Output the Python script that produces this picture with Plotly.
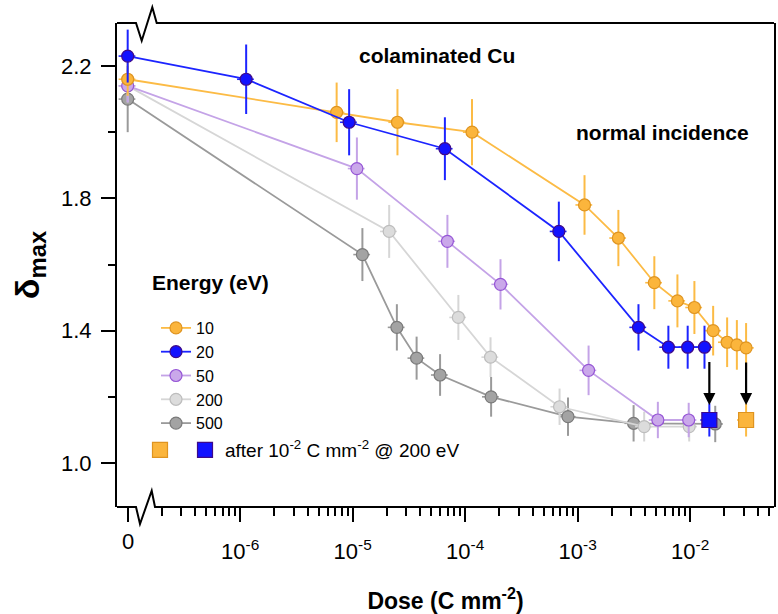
import numpy as np
import plotly.graph_objects as go

# ---------------- data ----------------
ENERGIES = ["10", "20", "50", "200", "500"]

DOSE_10 = [0, 7.2e-6, 2.5e-5, 1.15e-4, 1.15e-3, 2.3e-3, 4.8e-3, 7.7e-3, 1.09e-2, 1.6e-2, 2.13e-2, 2.6e-2, 3.14e-2]
DMAX_10 = [2.16, 2.06, 2.03, 2.00, 1.78, 1.68, 1.545, 1.49, 1.47, 1.40, 1.365, 1.357, 1.348]
ERR_10 = [0.05, 0.09, 0.10, 0.10, 0.09, 0.085, 0.08, 0.08, 0.08, 0.075, 0.075, 0.075, 0.075]

DOSE_20 = [0, 1.13e-6, 9.3e-6, 6.6e-5, 6.8e-4, 3.47e-3, 6.4e-3, 9.5e-3, 1.34e-2]
DMAX_20 = [2.23, 2.16, 2.03, 1.95, 1.70, 1.41, 1.35, 1.35, 1.35]
ERR_20 = [0.08, 0.105, 0.10, 0.095, 0.09, 0.07, 0.065, 0.065, 0.065]

DOSE_50 = [0, 1.09e-5, 6.95e-5, 2.06e-4, 1.25e-3, 5.16e-3, 9.7e-3]
DMAX_50 = [2.14, 1.89, 1.67, 1.54, 1.28, 1.13, 1.13]
ERR_50 = [0.05, 0.094, 0.08, 0.076, 0.075, 0.055, 0.052]

DOSE_200 = [0, 2.11e-5, 8.7e-5, 1.68e-4, 6.9e-4, 3.9e-3, 9.8e-3]
DMAX_200 = [2.14, 1.70, 1.44, 1.32, 1.17, 1.11, 1.11]
ERR_200 = [0.05, 0.08, 0.068, 0.06, 0.055, 0.045, 0.045]

DOSE_500 = [0, 1.22e-5, 2.47e-5, 3.7e-5, 5.98e-5, 1.7e-4, 8.2e-4, 3.14e-3, 1.67e-2]
DMAX_500 = [2.10, 1.63, 1.41, 1.317, 1.266, 1.20, 1.14, 1.12, 1.118]
ERR_500 = [0.10, 0.08, 0.07, 0.065, 0.063, 0.06, 0.058, 0.055, 0.055]

# after 1e-2 C mm^-2 @ 200 eV (orange = 10 eV, blue = 20 eV)
AFTER_DOSE = [3.14e-2, 1.48e-2]
AFTER_DMAX = [1.13, 1.13]
AFTER_ERR = [0.05, 0.05]

X_TICK_VALS = [1e-6, 1e-5, 1e-4, 1e-3, 1e-2]
X_TICK_TEXT = ["10<sup>-6</sup>", "10<sup>-5</sup>", "10<sup>-4</sup>", "10<sup>-3</sup>", "10<sup>-2</sup>"]
Y_TICK_VALS = [1.0, 1.4, 1.8, 2.2]
Y_TICK_TEXT = ["1.0", "1.4", "1.8", "2.2"]
Y_MINOR_VALS = [1.2, 1.6, 2.0]

ZERO_POS = 1e-7  # dose "0" is drawn here on the broken log axis

# ---------------- styling ----------------
FONT = "Liberation Sans, Arial, Helvetica, sans-serif"
W, H = 778, 614
ML, MR, MT, MB = 117, 4, 23, 107
PW, PH = W - ML - MR, H - MT - MB


def px(x):
    return (x - ML) / PW


def py(y):
    return (H - MB - y) / PH


STYLE = {
    "10": dict(line="#fcbb45", fill="#fbb53c", edge="#df9420"),
    "20": dict(line="#1c24ff", fill="#1212ff", edge="#3d0a8a"),
    "50": dict(line="#c4a3e7", fill="#caa8ea", edge="#9656d6"),
    "200": dict(line="#d6d6d6", fill="#dcdcdc", edge="#bdbdbd"),
    "500": dict(line="#9a9a9a", fill="#a3a3a3", edge="#7a7a7a"),
}
SERIES = {
    "10": (DOSE_10, DMAX_10, ERR_10),
    "20": (DOSE_20, DMAX_20, ERR_20),
    "50": (DOSE_50, DMAX_50, ERR_50),
    "200": (DOSE_200, DMAX_200, ERR_200),
    "500": (DOSE_500, DMAX_500, ERR_500),
}
DRAW_ORDER = ["500", "200", "50", "10", "20"]


def xpos(d):
    return [ZERO_POS if v == 0 else v for v in d]


fig = go.Figure()
for key in DRAW_ORDER:
    dose, dmax, err = SERIES[key]
    st = STYLE[key]
    fig.add_trace(go.Scatter(
        x=xpos(dose), y=dmax, mode="lines+markers", name=key,
        legendrank=ENERGIES.index(key) + 1, legend="legend",
        line=dict(color=st["line"], width=1.8),
        marker=dict(size=12, color=st["fill"], line=dict(color=st["edge"], width=1.2)),
        error_y=dict(type="data", array=err, color=st["line"], thickness=2, width=0),
        error_x=dict(type="percent", value=17, color=st["line"], thickness=1.6, width=0),
    ))

for i, key in enumerate(["10", "20"]):
    st = STYLE[key]
    fig.add_trace(go.Scatter(
        x=[AFTER_DOSE[i]], y=[AFTER_DMAX[i]], mode="markers",
        name="" if key == "10" else "after 10<sup>-2</sup> C mm<sup>-2</sup> @ 200 eV",
        legend="legend2", legendrank=i + 1,
        marker=dict(symbol="square", size=15, color=st["fill"], line=dict(color=st["edge"], width=1.2)),
        error_y=dict(type="data", array=[AFTER_ERR[i]], color=st["line"], thickness=2, width=0),
        error_x=dict(type="percent", value=17, color=st["line"], thickness=1.6, width=0),
    ))

# arrows from last point of each series down to the "after" square
annotations = []
for i, (dose, dmax) in enumerate([(DOSE_10, DMAX_10), (DOSE_20, DMAX_20)]):
    xl = np.log10(AFTER_DOSE[i])
    annotations.append(dict(
        x=xl, y=AFTER_DMAX[i] + 0.045, ax=xl, ay=dmax[-1] - 0.04,
        xref="x", yref="y", axref="x", ayref="y", text="",
        showarrow=True, arrowhead=2, arrowsize=1.1, arrowwidth=2.2, arrowcolor="black",
    ))

annotations += [
    dict(x=px(437), y=py(55), xref="paper", yref="paper", text="<b>colaminated Cu</b>",
         xanchor="center", yanchor="middle", showarrow=False,
         font=dict(size=21, color="black", family=FONT)),
    dict(x=px(662), y=py(132), xref="paper", yref="paper", text="<b>normal incidence</b>",
         xanchor="center", yanchor="middle", showarrow=False,
         font=dict(size=21, color="black", family=FONT)),
    dict(x=px(150), y=py(282), xref="paper", yref="paper", text="<b>Energy (eV)</b>",
         xanchor="left", yanchor="middle", showarrow=False,
         font=dict(size=21, color="black", family=FONT)),
    dict(x=np.log10(ZERO_POS), y=py(541), xref="x", yref="paper", text="0",
         xanchor="center", yanchor="middle", showarrow=False,
         font=dict(size=22, color="black", family=FONT)),
]

# frame with axis-break zigzags (top and bottom)
bottom = [(117, 507), (136, 507), (140, 524), (151.7, 490.7), (155, 507), (W - MR, 507)]
top = [(117, 23), (136, 23), (141.7, 40.7), (152.3, 7.3), (156.7, 23), (W - MR, 23)]
shapes = []
for pts in (bottom, top):
    path = "M " + " L ".join(f"{px(a):.5f} {py(b):.5f}" for a, b in pts)
    shapes.append(dict(type="path", path=path, xref="paper", yref="paper",
                       line=dict(color="black", width=2)))

X_MINOR = [m * 10.0 ** e for e in range(-7, -1) for m in range(2, 10)]

fig.update_layout(
    width=W, height=H,
    margin=dict(l=ML, r=MR, t=MT, b=MB, autoexpand=False),
    paper_bgcolor="white", plot_bgcolor="white",
    font=dict(family=FONT, color="black"),
    showlegend=True,
    legend=dict(x=px(156), y=py(311), xanchor="left", yanchor="top",
                font=dict(size=16, family=FONT), bgcolor="rgba(0,0,0,0)", tracegroupgap=0),
    legend2=dict(x=px(140), y=py(431), xanchor="left", yanchor="top", orientation="h",
                 font=dict(size=19, family=FONT), bgcolor="rgba(0,0,0,0)"),
    annotations=annotations,
    shapes=shapes,
    xaxis=dict(
        type="log", range=[-7.095, -1.255], automargin=False,
        tickmode="array", tickvals=[ZERO_POS] + X_TICK_VALS, ticktext=[""] + X_TICK_TEXT,
        ticks="outside", ticklen=14, tickwidth=1.5, tickcolor="black",
        ticklabelstandoff=11,
        tickfont=dict(size=22, family=FONT, color="black"),
        minor=dict(tickmode="array", tickvals=X_MINOR, ticks="outside", ticklen=8,
                   tickwidth=1.5, tickcolor="black", showgrid=False),
        showgrid=False, zeroline=False, showline=False,
        title=dict(text="<b>Dose (C mm<sup>-2</sup>)</b>", font=dict(size=23, family=FONT),
                   standoff=29),
    ),
    yaxis=dict(
        range=[0.867, 2.33], automargin=False,
        tickmode="array", tickvals=Y_TICK_VALS, ticktext=Y_TICK_TEXT,
        ticks="outside", ticklen=14, tickwidth=1.5, tickcolor="black",
        ticklabelstandoff=5,
        tickfont=dict(size=22, family=FONT, color="black"),
        minor=dict(tickmode="array", tickvals=Y_MINOR_VALS, ticks="outside", ticklen=7,
                   tickwidth=1.5, tickcolor="black", showgrid=False),
        showgrid=False, zeroline=False,
        showline=True, mirror=True, linecolor="black", linewidth=2,
        title=dict(text="<b>δ<sub>max</sub></b>", font=dict(size=34, family=FONT), standoff=11),
    ),
)

fig.write_html(
    "out.html",
    config={"displayModeBar": False},
    post_script="document.body.style.margin='0px';document.body.style.overflow='hidden';",
)
